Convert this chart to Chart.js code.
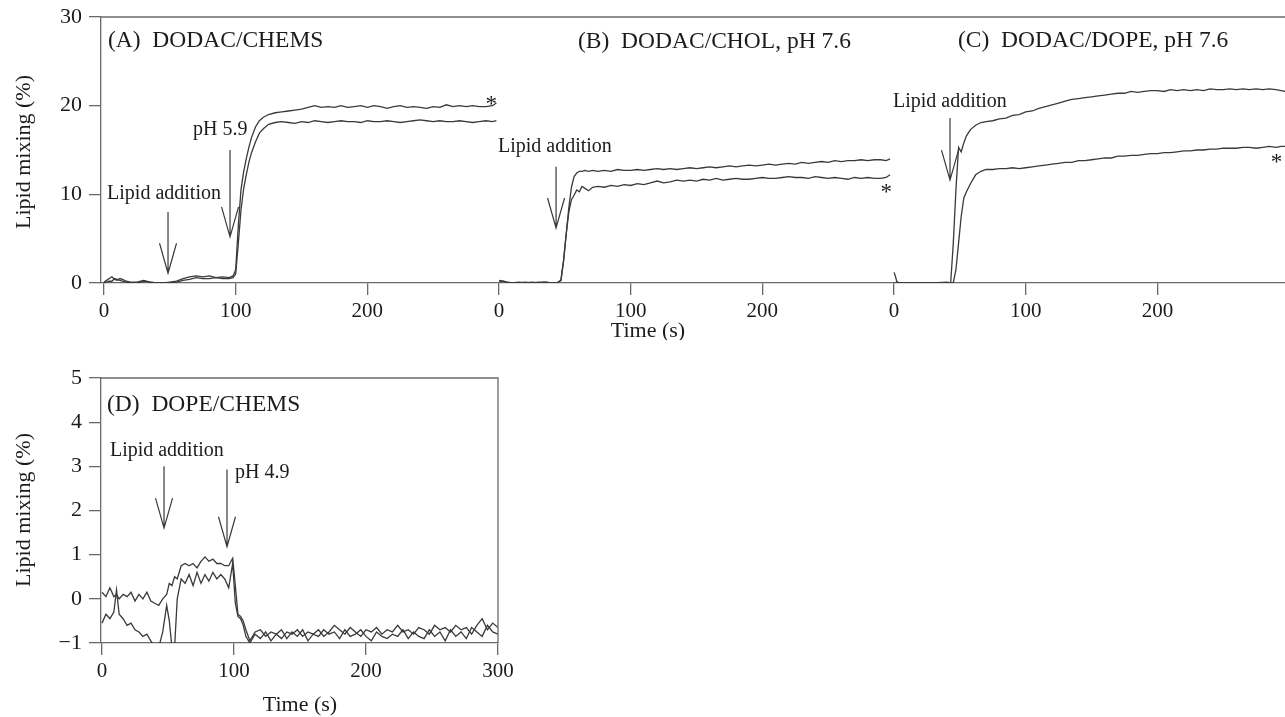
<!doctype html>
<html>
<head>
<meta charset="utf-8">
<title>Lipid mixing</title>
<script src="https://cdn.jsdelivr.net/npm/chart.js"></script>
<style>
  html, body { margin: 0; padding: 0; background: #fff; overflow: hidden; }
  body { width: 1285px; height: 717px; position: relative; }
  #top { position: absolute; left: 0; top: 0; }
  #bottom { position: absolute; left: 0; top: 340px; }
</style>
</head>
<body>
<canvas id="top" width="1300" height="340"></canvas>
<canvas id="bottom" width="520" height="377"></canvas>
<script>
// ---- data ----
// top row: panels A, B, C share one time axis, each panel restarts at 0
const panelOffsets = [0, 300, 600];
const topXTicks = [0, 100, 200];
const topYTicks = [0, 10, 20, 30];

// (A) DODAC/CHEMS
const tA = [0, 2, 4, 6, 8, 10, 12, 14, 17, 20,
  25, 30, 35, 40, 45, 50, 55, 60, 65, 70,
  75, 80, 85, 90, 95, 98, 100, 102, 104, 106,
  108, 110, 112, 115, 118, 121, 125, 130, 135, 140,
  145, 150, 155, 160, 165, 170, 175, 180, 185, 190,
  195, 200, 205, 210, 215, 220, 225, 230, 235, 240,
  245, 250, 255, 260, 265, 270, 275, 280, 285, 290,
  295, 298];
const aUpper = [0.1, 0.3, 0.5, 0.7, 0.4, 0.3, 0.5, 0.4, 0.2, 0.1,
  0.1, 0.3, 0.1, 0.0, 0.0, 0.1, 0.2, 0.5, 0.7, 0.8,
  0.7, 0.8, 0.6, 0.7, 0.6, 0.8, 1.5, 6.5, 10.5, 12.5,
  14.0, 15.3, 16.4, 17.6, 18.3, 18.7, 19.0, 19.2, 19.3, 19.4,
  19.5, 19.6, 19.8, 20.0, 19.8, 19.9, 19.8, 20.0, 19.8, 19.9,
  20.0, 19.8, 20.0, 19.9, 19.7, 19.9, 20.0, 19.8, 19.9, 19.8,
  19.7, 19.9, 19.8, 20.1, 19.9, 20.0, 19.9, 20.0, 19.9, 19.9,
  20.0, 20.3];
const aLower = [0.0, 0.1, 0.2, 0.2, 0.5, 0.4, 0.3, 0.2, 0.1, 0.0,
  0.0, 0.2, 0.1, 0.0, 0.0, 0.0, 0.1, 0.3, 0.4, 0.6,
  0.5, 0.5, 0.6, 0.5, 0.5, 0.6, 1.0, 4.5, 8.2, 10.6,
  12.2, 13.6, 14.7, 15.9, 16.9, 17.4, 17.9, 18.1, 18.2, 18.1,
  18.0, 18.2, 18.1, 18.3, 18.2, 18.1, 18.2, 18.3, 18.2, 18.2,
  18.1, 18.3, 18.2, 18.2, 18.3, 18.2, 18.1, 18.2, 18.3, 18.4,
  18.3, 18.2, 18.3, 18.2, 18.2, 18.3, 18.2, 18.1, 18.2, 18.3,
  18.2, 18.3];

// (B) DODAC/CHOL, pH 7.6
const tB = [0, 3, 6, 10, 15, 20, 25, 30, 35, 40,
  44, 47, 49, 51, 53, 55, 57, 59, 61, 63,
  65, 68, 71, 75, 80, 85, 90, 95, 100, 105,
  110, 115, 120, 125, 130, 135, 140, 145, 150, 155,
  160, 165, 170, 175, 180, 185, 190, 195, 200, 205,
  210, 215, 220, 225, 230, 235, 240, 245, 250, 255,
  260, 265, 270, 275, 280, 285, 290, 294, 297];
const bUpper = [0.3, 0.2, 0.1, 0.0, 0.0, 0.1, 0.0, 0.1, 0.1, 0.0,
  0.0, 0.3, 2.5, 5.5, 8.5, 10.8, 12.0, 12.4, 12.6, 12.6,
  12.7, 12.6, 12.7, 12.6, 12.7, 12.6, 12.8, 12.7, 12.7, 12.8,
  12.7, 12.8, 12.9, 12.8, 12.9, 12.8, 12.9, 13.0, 12.9, 13.0,
  13.1, 13.0, 13.1, 13.2, 13.1, 13.2, 13.3, 13.2, 13.3, 13.4,
  13.3, 13.4, 13.5, 13.4, 13.6, 13.5, 13.6, 13.7, 13.6, 13.8,
  13.7, 13.8, 13.8, 13.9, 13.8, 13.9, 13.9, 13.8, 14.0];
const bLower = [0.1, 0.2, 0.1, 0.0, 0.1, 0.0, 0.1, 0.0, 0.1, 0.0,
  0.0, 0.3, 2.5, 5.5, 8.0, 9.4, 9.9, 10.5, 10.3, 10.9,
  10.7, 10.4, 10.8, 10.9, 10.8, 11.0, 10.9, 11.1, 11.0, 11.2,
  11.1, 11.3, 11.5, 11.3, 11.4, 11.6, 11.5, 11.6, 11.5, 11.7,
  11.6, 11.8, 11.6, 11.7, 11.8, 11.7, 11.7, 11.8, 11.9, 11.8,
  11.8, 11.9, 12.0, 11.9, 11.9, 11.8, 12.0, 11.9, 11.8, 11.9,
  11.8, 11.7, 11.9, 11.8, 11.9, 11.8, 11.8, 11.9, 12.2];

// (C) DODAC/DOPE, pH 7.6
const tC = [0, 1, 2, 4, 10, 20, 30, 40, 43, 45,
  47, 49, 51, 53, 55, 58, 62, 66, 70, 75,
  80, 85, 90, 95, 100, 105, 110, 115, 120, 125,
  130, 135, 140, 145, 150, 155, 160, 165, 170, 175,
  180, 185, 190, 195, 200, 205, 210, 215, 220, 225,
  230, 235, 240, 245, 250, 255, 260, 265, 270, 275,
  280, 285, 290, 294, 297];
const cUpper = [1.2, 0.8, 0.2, 0.0, 0.0, 0.0, 0.0, 0.1, 0.0, 4.5,
  10.5, 15.3, 14.8, 15.8, 16.6, 17.3, 17.8, 18.1, 18.2, 18.3,
  18.5, 18.6, 18.9, 19.0, 19.3, 19.4, 19.7, 19.9, 20.1, 20.3,
  20.5, 20.7, 20.8, 20.9, 21.0, 21.1, 21.2, 21.3, 21.4, 21.4,
  21.6, 21.5, 21.6, 21.7, 21.7, 21.6, 21.8, 21.7, 21.8, 21.7,
  21.8, 21.7, 21.9, 21.8, 21.8, 21.9, 21.8, 21.9, 21.8, 21.9,
  21.8, 21.9, 21.8, 21.7, 21.6];
const cLower = [0.0, 0.0, 0.0, 0.0, 0.0, 0.0, 0.0, 0.0, 0.0, 0.0,
  1.5, 4.5, 7.5, 9.6, 10.3, 11.2, 12.2, 12.6, 12.8, 12.8,
  12.9, 12.9, 13.0, 12.9, 13.0, 13.1, 13.2, 13.3, 13.4, 13.5,
  13.6, 13.6, 13.8, 13.8, 13.9, 14.0, 14.1, 14.1, 14.3, 14.3,
  14.4, 14.4, 14.5, 14.6, 14.6, 14.7, 14.7, 14.8, 14.9, 14.9,
  15.0, 15.0, 15.1, 15.1, 15.2, 15.2, 15.2, 15.3, 15.3, 15.2,
  15.3, 15.4, 15.3, 15.4, 15.4];

// (D) DOPE/CHEMS
const dXTicks = [0, 100, 200, 300];
const dYTicks = [-1, 0, 1, 2, 3, 4, 5];
const tD = [0, 3, 6, 9, 11, 13, 16, 19, 22, 25,
  28, 31, 34, 37, 40, 43, 46, 49, 51, 53,
  55, 57, 60, 63, 66, 69, 72, 75, 78, 81,
  84, 87, 90, 93, 96, 99, 101, 103, 105, 107,
  109, 112, 116, 120, 124, 128, 132, 136, 140, 144,
  148, 152, 156, 160, 164, 168, 172, 176, 180, 184,
  188, 192, 196, 200, 204, 208, 212, 216, 220, 224,
  228, 232, 236, 240, 244, 248, 252, 256, 260, 264,
  268, 272, 276, 280, 284, 288, 292, 296, 300];
const dUpper = [0.15, 0.05, 0.25, 0.05, 0.1, 0.0, 0.1, 0.05, 0.15, -0.05,
  0.1, 0.0, 0.15, -0.05, -0.1, -0.15, 0.0, 0.1, 0.35, 0.3,
  0.5, 0.45, 0.75, 0.8, 0.75, 0.8, 0.7, 0.85, 0.95, 0.85,
  0.9, 0.8, 0.8, 0.75, 0.75, 0.92, 0.3, -0.35, -0.4, -0.5,
  -0.7, -0.95, -0.75, -0.7, -0.85, -0.75, -0.8, -0.9, -0.75, -0.8,
  -0.7, -0.85, -0.75, -0.8, -0.7, -0.85, -0.75, -0.6, -0.7, -0.8,
  -0.65, -0.75, -0.85, -0.7, -0.75, -0.65, -0.8, -0.7, -0.75, -0.6,
  -0.75, -0.7, -0.8, -0.65, -0.7, -0.8, -0.6, -0.7, -0.65, -0.75,
  -0.6, -0.7, -0.65, -0.8, -0.6, -0.45, -0.7, -0.55, -0.65];
const dLower = [-0.55, -0.35, -0.45, -0.3, 0.2, -0.35, -0.45, -0.6, -0.55, -0.7,
  -0.75, -0.85, -0.8, -0.95, -1.1, -1.1, -0.75, -0.15, -0.5, -1.1,
  -1.1, 0.0, 0.45, 0.35, 0.55, 0.3, 0.6, 0.35, 0.55, 0.4,
  0.6, 0.45, 0.55, 0.45, 0.25, 0.8, -0.1, -0.4, -0.45, -0.6,
  -0.85, -1.0, -0.8, -0.9, -0.75, -0.95, -0.8, -0.7, -0.9, -0.75,
  -0.85, -0.7, -0.95, -0.8, -0.85, -0.7, -0.8, -0.75, -0.9, -0.7,
  -0.85, -0.8, -0.7, -0.85, -0.95, -0.75, -0.85, -0.9, -0.8, -0.85,
  -0.7, -0.9, -0.75, -0.85, -0.9, -0.7, -0.85, -0.75, -0.95, -0.7,
  -0.85, -0.75, -0.9, -0.65, -0.75, -0.85, -0.6, -0.75, -0.8];

// annotations (panel index, panel-local time, value)
const topNotes = [
  { p: 0, t: 3, v: 26.6, text: '(A)  DODAC/CHEMS', size: 23.5 },
  { p: 1, t: 60, v: 26.5, text: '(B)  DODAC/CHOL, pH 7.6', size: 23.5 },
  { p: 2, t: 48.6, v: 26.6, text: '(C)  DODAC/DOPE, pH 7.6', size: 23.5 },
  { p: 0, t: 2.3, v: 9.5, text: 'Lipid addition', size: 20 },
  { p: 0, t: 67.6, v: 16.7, text: 'pH 5.9', size: 20 },
  { p: 1, t: -0.8, v: 14.8, text: 'Lipid addition', size: 20 },
  { p: 2, t: -0.8, v: 19.8, text: 'Lipid addition', size: 20 },
  { p: 0, t: 294, v: 19.4, text: '*', size: 23, align: 'center' },
  { p: 1, t: 294, v: 9.5, text: '*', size: 23, align: 'center' },
  { p: 2, t: 290.5, v: 12.9, text: '*', size: 23, align: 'center' }
];
const topArrows = [
  { p: 0, t: 48.6, top: 8.0, tip: 1.1 },
  { p: 0, t: 95.7, top: 15.0, tip: 5.2 },
  { p: 1, t: 43.3, top: 13.1, tip: 6.2 },
  { p: 2, t: 42.5, top: 18.6, tip: 11.6 }
];
const dNotes = [
  { p: 0, t: 3.8, v: 4.25, text: '(D)  DOPE/CHEMS', size: 23.5 },
  { p: 0, t: 6, v: 3.23, text: 'Lipid addition', size: 20 },
  { p: 0, t: 100.8, v: 2.73, text: 'pH 4.9', size: 20 }
];
const dArrows = [
  { p: 0, t: 47, top: 3.0, tip: 1.6 },
  { p: 0, t: 94.7, top: 2.93, tip: 1.18 }
];

// ---- drawing ----
const SERIF = '"Liberation Serif", "Times New Roman", Times, serif';
const INK = '#1b1b1b';
const TRACE = '#3a3a3a';
const FRAME = '#6a6a6a';

function trace(times, values, offset) {
  return {
    data: times.map((t, i) => ({ x: t + offset, y: values[i] })),
    borderColor: TRACE, borderWidth: 1.3, pointRadius: 0, tension: 0, fill: false
  };
}

function overlay(cfg) {
  return {
    id: 'overlay',
    afterDatasetsDraw(chart) {
      const { ctx, chartArea: a, scales } = chart;
      const px = (p, t) => scales.x.getPixelForValue(cfg.offsets[p] + t);
      const py = (v) => scales.y.getPixelForValue(v);
      ctx.save();
      // top and right sides of the box
      ctx.strokeStyle = FRAME;
      ctx.lineWidth = 1.3;
      ctx.beginPath();
      ctx.moveTo(a.left, a.top);
      ctx.lineTo(a.right, a.top);
      ctx.lineTo(a.right, a.bottom);
      ctx.stroke();

      ctx.fillStyle = INK;
      ctx.textBaseline = 'alphabetic';
      for (const n of cfg.notes) {
        ctx.font = n.size + 'px ' + SERIF;
        ctx.textAlign = n.align || 'left';
        ctx.fillText(n.text, px(n.p, n.t), py(n.v));
      }

      ctx.strokeStyle = TRACE;
      ctx.lineWidth = 1.2;
      for (const ar of cfg.arrows) {
        const x = px(ar.p, ar.t), y0 = py(ar.top), y1 = py(ar.tip);
        ctx.beginPath();
        ctx.moveTo(x, y0);
        ctx.lineTo(x, y1);
        ctx.moveTo(x - 8.5, y1 - 30);
        ctx.lineTo(x, y1);
        ctx.lineTo(x + 8.5, y1 - 30);
        ctx.stroke();
      }

      // axis titles
      ctx.font = '22px ' + SERIF;
      ctx.textAlign = 'center';
      ctx.textBaseline = 'middle';
      ctx.fillText('Time (s)', cfg.xTitle[0], cfg.xTitle[1]);
      ctx.translate(cfg.yTitle[0], cfg.yTitle[1]);
      ctx.rotate(-Math.PI / 2);
      ctx.fillText('Lipid mixing (%)', 0, 0);
      ctx.restore();
    }
  };
}

function axisStyle(fontSize, pad, lineHeight) {
  return {
    border: { display: true, color: FRAME, width: 1.3 },
    grid: { drawOnChartArea: false, drawTicks: true, tickLength: 12, color: FRAME, lineWidth: 1.3 },
    ticks: { font: { family: SERIF, size: fontSize, lineHeight }, color: INK, padding: pad }
  };
}

function fmt(v) {
  return String(v).replace('-', '\u2212');
}

// top chart: A, B, C on one axis
const topX = axisStyle(21, 4, 1.2);
const topY = axisStyle(22, 7, 0.8);
new Chart(document.getElementById('top'), {
  type: 'line',
  data: {
    datasets: [
      trace(tA, aUpper, panelOffsets[0]), trace(tA, aLower, panelOffsets[0]),
      trace(tB, bUpper, panelOffsets[1]), trace(tB, bLower, panelOffsets[1]),
      trace(tC, cUpper, panelOffsets[2]), trace(tC, cLower, panelOffsets[2])
    ]
  },
  options: {
    responsive: false, animation: false, devicePixelRatio: 1,
    layout: { padding: { top: 17, right: 7, left: 0, bottom: 0 } },
    plugins: { legend: { display: false }, tooltip: { enabled: false } },
    scales: {
      x: {
        type: 'linear', min: -2.3, max: 903, ...topX,
        afterBuildTicks: (s) => { s.ticks = panelOffsets.flatMap(o => topXTicks.map(t => ({ value: o + t }))); },
        afterFit: (s) => { s.height = 57; },
        ticks: {
          ...topX.ticks,
          callback: (v) => {
            const o = panelOffsets.filter(p => p <= v + 0.5).pop();
            return fmt(Math.round(v - o));
          }
        }
      },
      y: {
        min: 0, max: 30, ...topY,
        afterBuildTicks: (s) => { s.ticks = topYTicks.map(v => ({ value: v })); },
        afterFit: (s) => { s.width = 101; },
        ticks: { ...topY.ticks, callback: fmt }
      }
    }
  },
  plugins: [overlay({ offsets: panelOffsets, notes: topNotes, arrows: topArrows, xTitle: [648, 331], yTitle: [24, 152] })]
});

// bottom chart: D
const dX = axisStyle(21, 4, 1.2);
const dY = axisStyle(22, 7, 0.8);
new Chart(document.getElementById('bottom'), {
  type: 'line',
  data: { datasets: [trace(tD, dUpper, 0), trace(tD, dLower, 0)] },
  options: {
    responsive: false, animation: false, devicePixelRatio: 1,
    layout: { padding: { top: 38, right: 22, left: 0, bottom: 0 } },
    plugins: { legend: { display: false }, tooltip: { enabled: false } },
    scales: {
      x: {
        type: 'linear', min: -0.75, max: 300, ...dX,
        afterBuildTicks: (s) => { s.ticks = dXTicks.map(v => ({ value: v })); },
        afterFit: (s) => { s.height = 74; },
        ticks: { ...dX.ticks, callback: fmt }
      },
      y: {
        min: -1, max: 5, ...dY,
        afterBuildTicks: (s) => { s.ticks = dYTicks.map(v => ({ value: v })); },
        afterFit: (s) => { s.width = 101; },
        ticks: { ...dY.ticks, callback: fmt }
      }
    }
  },
  plugins: [overlay({ offsets: [0], notes: dNotes, arrows: dArrows, xTitle: [300, 365], yTitle: [24, 170] })]
});
</script>
</body>
</html>
